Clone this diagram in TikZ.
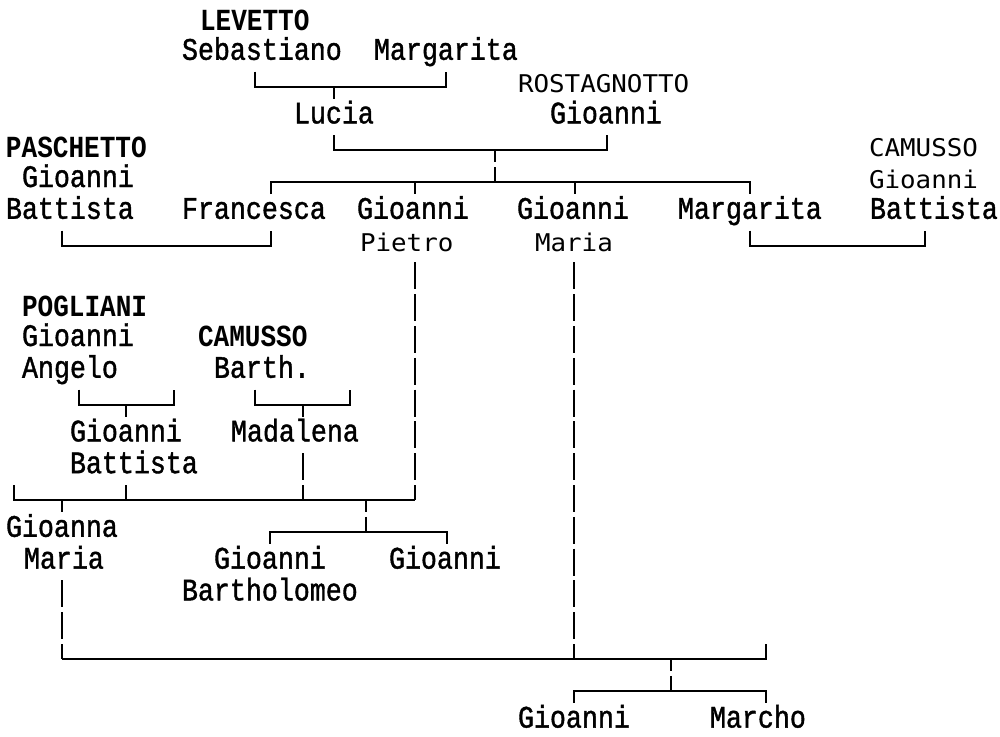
\documentclass[tikz,border=0pt]{standalone}
\usepackage{fontspec}
\newfontfamily\regf{Liberation Mono}[FakeStretch=0.85,FakeBold=1.2]
\newfontfamily\surf{Liberation Mono}[FakeStretch=0.85]
\newfontfamily\sansf{DejaVu Sans Mono}[FakeStretch=1.06]
\begin{document}
\begin{tikzpicture}[x=0.75pt,y=-0.75pt,
  txt/.style={anchor=base west,inner sep=0pt,outer sep=0pt,text=black},
  reg/.style={txt,font=\regf\fontsize{23.5pt}{25pt}\selectfont},
  sur/.style={txt,font=\surf\bfseries\fontsize{23pt}{25pt}\selectfont},
  san/.style={txt,font=\sansf\fontsize{18.3pt}{20pt}\selectfont},
  ln/.style={line width=1.6pt,black},
  vln/.style={ln,dash pattern=on 20.25pt off 3.6pt}]
\fill[white] (0,0) rectangle (1000,736);
\useasboundingbox (0,0) rectangle (1000,736);

% ---------- texts ----------
\node[sur] (levetto) at (200,30) {LEVETTO};
\node[reg] (sebastiano) at (182,59.8) {Sebastiano};
\node[reg] (margarita1) at (374,59.8) {Margarita};
\node[san] (rostagnotto) at (518,92) {ROSTAGNOTTO};
\node[reg] (lucia) at (294,123.4) {Lucia};
\node[reg] (gioanniR) at (550,123.4) {Gioanni};
\node[sur] (paschetto) at (6,157) {PASCHETTO};
\node[san] (camussoR) at (869,156) {CAMUSSO};
\node[reg] (gioanniP) at (22,187) {Gioanni};
\node[san] (gioanniC) at (869,188) {Gioanni};
\node[reg] (battistaP) at (6,218.8) {Battista};
\node[reg] (francesca) at (182,218.8) {Francesca};
\node[reg] (gioanniPi) at (357,218.8) {Gioanni};
\node[reg] (gioanniMa) at (517,218.8) {Gioanni};
\node[reg] (margarita2) at (678,218.8) {Margarita};
\node[reg] (battistaC) at (870,218.8) {Battista};
\node[san] (pietro) at (360,251.5) {Pietro};
\node[san] (maria1) at (535,251.5) {Maria};
\node[sur] (pogliani) at (22,316) {POGLIANI};
\node[reg] (gioanniA) at (22,346) {Gioanni};
\node[sur] (camussoB) at (198,346) {CAMUSSO};
\node[reg] (angelo) at (22,377.8) {Angelo};
\node[reg] (barth) at (214,377.8) {Barth.};
\node[reg] (gioanniB) at (70,441.4) {Gioanni};
\node[reg] (madalena) at (231,441.4) {Madalena};
\node[reg] (battistaB) at (70,473.2) {Battista};
\node[reg] (gioanna) at (6,536.8) {Gioanna};
\node[reg] (maria2) at (24,568.6) {Maria};
\node[reg] (gioanniBa) at (214,568.6) {Gioanni};
\node[reg] (gioanniG) at (389,568.6) {Gioanni};
\node[reg] (bartholomeo) at (182,600.4) {Bartholomeo};
\node[reg] (gioanniZ) at (518,727.6) {Gioanni};
\node[reg] (marcho) at (710,727.6) {Marcho};

% ---------- junction coordinates ----------
\coordinate (jSeb) at (255,86.6);
\coordinate (jMar) at (446,86.6);
\coordinate (jLuc) at (334,86.6);
\coordinate (jLuc2) at (334,150.2);
\coordinate (jRos) at (607,150.2);
\coordinate (jC1) at (495,150.2);
\coordinate (jC2) at (495,182);
\coordinate (kFra) at (271,182);
\coordinate (kPie) at (415,182);
\coordinate (kMa) at (575,182);
\coordinate (kMar) at (750,182);
\coordinate (jPas) at (62,245.6);
\coordinate (jFra) at (271,245.6);
\coordinate (jMar2) at (750,245.6);
\coordinate (jCam) at (925,245.6);
\coordinate (vPie) at (415,262.4);
\coordinate (vMa) at (574,262.4);
\coordinate (jPog) at (79,404.6);
\coordinate (jAng) at (174,404.6);
\coordinate (jGB) at (126,404.6);
\coordinate (jCamB) at (255,404.6);
\coordinate (jCamW) at (350,404.6);
\coordinate (jMad) at (303,404.6);
\coordinate (hL) at (14,500);
\coordinate (hR) at (415,500);
\coordinate (hGB) at (126,500);
\coordinate (hMad) at (303,500);
\coordinate (vMad) at (303,453.2);
\coordinate (hGM) at (62,500);
\coordinate (hCh) at (366,500);
\coordinate (hCh2) at (366,531.8);
\coordinate (kBa) at (270,531.8);
\coordinate (kGi) at (447,531.8);
\coordinate (vGM) at (62,580.4);
\coordinate (gL) at (62,659);
\coordinate (gR) at (766,659);
\coordinate (gMa) at (574,659);
\coordinate (gCh) at (671,659);
\coordinate (gCh2) at (671,690.8);
\coordinate (kGz) at (574,690.8);
\coordinate (kMc) at (766,690.8);

% ---------- connectors ----------
% Sebastiano + Margarita -> Lucia
\draw[ln] (jSeb) ++(0,-15) -- (jSeb) -- (jMar) -- ++(0,-15);
\draw[ln] (jLuc) -- ++(0,12);
% Lucia + Gioanni Rostagnotto -> children
\draw[ln] (jLuc2) ++(0,-15) -- (jLuc2) -- (jRos) -- ++(0,-15);
\draw[ln] (jC1) -- ++(0,12);
\draw[ln] (jC2) ++(0,-15) -- (jC2);
\draw[ln] (kFra) ++(0,12) -- (kFra) -- (kMar) -- ++(0,12);
\draw[ln] (kPie) -- ++(0,12);
\draw[ln] (kMa) -- ++(0,12);
% marriages row 7
\draw[ln] (jPas) ++(0,-15) -- (jPas) -- (jFra) -- ++(0,-15);
\draw[ln] (jMar2) ++(0,-15) -- (jMar2) -- (jCam) -- ++(0,-15);
% Pogliani and Camusso brackets
\draw[ln] (jPog) ++(0,-15) -- (jPog) -- (jAng) -- ++(0,-15);
\draw[ln] (jGB) -- ++(0,12);
\draw[ln] (jCamB) ++(0,-15) -- (jCamB) -- (jCamW) -- ++(0,-15);
\draw[ln] (jMad) -- ++(0,12);
% row 15
\draw[vln] (vPie) -- (hR);
\draw[ln] (hL) ++(0,-15) -- (hL) -- (hR);
\draw[ln] (hGB) ++(0,-15) -- (hGB);
\draw[vln] (vMad) -- (hMad);
\draw[ln] (hGM) -- ++(0,12);
\draw[ln] (hCh) -- ++(0,12);
% row 16
\draw[ln] (hCh2) ++(0,-15) -- (hCh2);
\draw[ln] (kBa) ++(0,12) -- (kBa) -- (kGi) -- ++(0,12);
% row 20 / 21
\draw[vln] (vMa) -- (gMa);
\draw[vln] (vGM) -- (gL);
\draw[ln] (gL) -- (gR) -- ++(0,-15);
\draw[ln] (gCh) -- ++(0,12);
\draw[ln] (gCh2) ++(0,-15) -- (gCh2);
\draw[ln] (kGz) ++(0,12) -- (kGz) -- (kMc) -- ++(0,12);
\end{tikzpicture}
\end{document}
